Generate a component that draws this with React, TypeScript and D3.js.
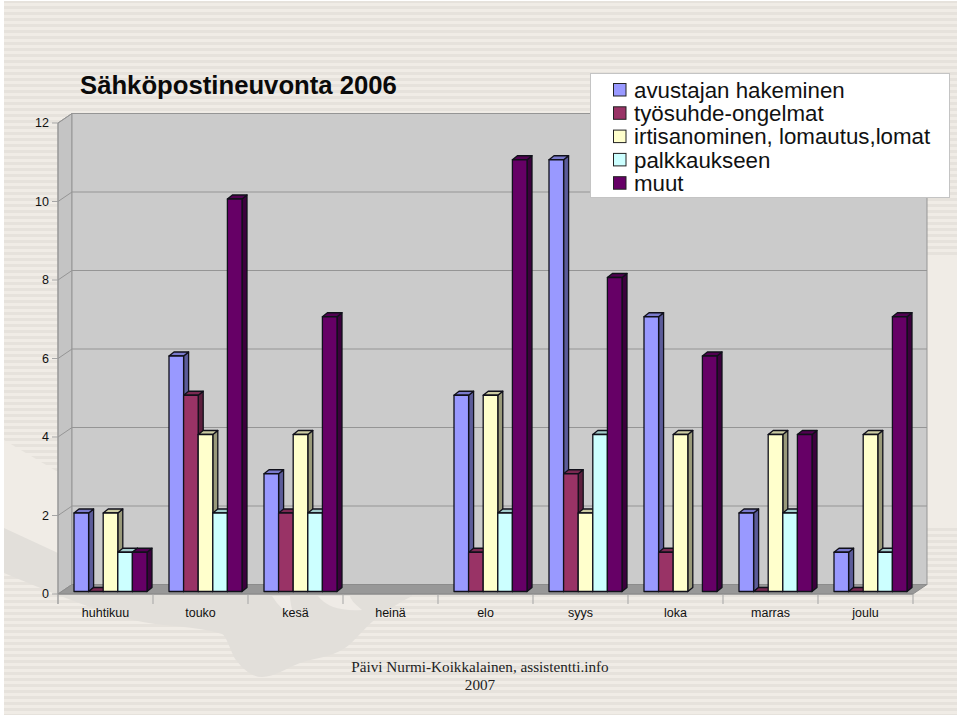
import * as d3 from 'd3';
import React from 'react';

const months = ['huhtikuu', 'touko', 'kesä', 'heinä', 'elo', 'syys', 'loka', 'marras', 'joulu'];
const seriesNames = ['avustajan hakeminen', 'työsuhde-ongelmat', 'irtisanominen, lomautus,lomat', 'palkkaukseen', 'muut'];
const seriesColors = ['#9999ff', '#993366', '#ffffcc', '#ccffff', '#660066'];

// null = no bar at all in the picture, 0 = flat slab
const avustajan = [2, 6, 3, null, 5, 11, 7, 2, 1];
const tyosuhde = [0, 5, 2, null, 1, 3, 1, 0, 0];
const irtisanominen = [2, 4, 4, null, 5, 2, 4, 4, 4];
const palkkaus = [1, 2, 2, null, 2, 4, null, 2, 1];
const muut = [1, 10, 7, null, 11, 8, 6, 4, 7];
const seriesValues = [avustajan, tyosuhde, irtisanominen, palkkaus, muut];

const yTicks = [0, 2, 4, 6, 8, 10, 12];

const width = 960;
const height = 717;
const plot = { left: 58, right: 913, top: 123, bottom: 594 };
const wallDx = 14;
const wallDy = -9.5;
const barDepthX = 5;
const barDepthY = -4;

const x = d3.scaleBand<string>().domain(months).range([plot.left, plot.right]);
const y = d3.scaleLinear().domain([0, 12]).range([plot.bottom, plot.top]);
const barX = d3
  .scaleBand<number>()
  .domain(d3.range(seriesNames.length))
  .range([16, x.bandwidth() - 6]);

const shade = (c: string, k: number) => {
  const r = d3.rgb(c);
  return d3.rgb(r.r * k, r.g * k, r.b * k).formatHex();
};

const pts = (p: number[][]) => p.map((q) => q.join(',')).join(' ');

// lower edge of the darker shape in the background picture
const blotch = d3.line().curve(d3.curveMonotoneX)([
  [4, 573], [33, 585], [133, 620], [222, 634], [236, 660], [262, 677], [300, 663], [345, 648], [372, 622], [412, 596]
]);

export default function App() {
  const barLift = 2.5;
  return (
    <svg
      width={width}
      height={height}
      style={{ position: 'absolute', left: 0, top: 0, background: '#fff' }}
    >
      <defs>
        <pattern id="stripes" patternUnits="userSpaceOnUse" width={6} height={6}>
          <rect width={6} height={6} fill="#f0ece6" />
          <rect width={6} height={3} fill="#e6e2dc" />
        </pattern>
      </defs>

      {/* background */}
      <rect x={4} y={1} width={953} height={714} fill="url(#stripes)" />
      <rect x={927} y={255} width={30} height={270} fill="#f0ece6" />
      <polygon points="4,440 58,472 58,560 4,530" fill="#f0ece6" />
      <path d={`${blotch}L412,590L58,590L58,553L4,528Z`} fill="#e2dfda" />
      <path d="M318,596Q330,612 362,610Q350,600 350,596Z" fill="#efebe6" />
      <path d="M272,596Q282,612 294,616Q290,604 290,596Z" fill="#efebe6" />

      {/* walls and floor */}
      <polygon
        points={pts([
          [plot.left, plot.top],
          [plot.left + wallDx, plot.top + wallDy],
          [plot.left + wallDx, plot.bottom + wallDy],
          [plot.left, plot.bottom]
        ])}
        fill="#c4c4c4"
        stroke="#959595"
      />
      <rect
        x={plot.left + wallDx}
        y={plot.top + wallDy}
        width={plot.right - plot.left}
        height={plot.bottom - plot.top}
        fill="#cbcbcb"
        stroke="#959595"
      />
      <polygon
        points={pts([
          [plot.left, plot.bottom],
          [plot.left + wallDx, plot.bottom + wallDy],
          [plot.right + wallDx, plot.bottom + wallDy],
          [plot.right, plot.bottom]
        ])}
        fill="#989898"
        stroke="#8c8c8c"
      />

      {/* grid and y axis */}
      {yTicks.map((t) => (
        <g key={t} fontFamily="Liberation Sans" fontSize={12.5} fill="#111">
          {t > 0 && (
            <polyline
              points={pts([
                [plot.left, y(t)],
                [plot.left + wallDx, y(t) + wallDy],
                [plot.right + wallDx, y(t) + wallDy]
              ])}
              fill="none"
              stroke="#959595"
            />
          )}
          <line x1={plot.left - 6} x2={plot.left} y1={y(t)} y2={y(t)} stroke="#a5a5a5" />
          <text x={49} y={y(t)} dy="0.35em" textAnchor="end">
            {t}
          </text>
        </g>
      ))}
      <line x1={plot.left} x2={plot.left} y1={plot.top} y2={plot.bottom + 10} stroke="#999" />

      {/* x axis */}
      <line x1={plot.left} x2={plot.right} y1={plot.bottom} y2={plot.bottom} stroke="#8c8c8c" />
      {[...months.map((m) => x(m)!), plot.right].map((tx, i) => (
        <line key={i} x1={tx} x2={tx} y1={plot.bottom} y2={plot.bottom + 10} stroke="#a5a5a5" />
      ))}
      {months.map((m) => (
        <text
          key={m}
          x={x(m)! + x.bandwidth() / 2}
          y={613}
          dy="0.35em"
          textAnchor="middle"
          fontFamily="Liberation Sans"
          fontSize={12.5}
          fill="#111"
        >
          {m}
        </text>
      ))}

      {/* bars */}
      {months.map((m, mi) =>
        seriesValues.map((vals, si) => {
          const v = vals[mi];
          if (v === null) return null;
          const x0 = x(m)! + barX(si)!;
          const x1 = x0 + barX.bandwidth();
          const yTop = y(v) - barLift;
          const yBase = y(0) - barLift;
          const color = seriesColors[si];
          return (
            <g key={`${m}-${si}`} stroke="#10101a" strokeWidth={1.3} strokeLinejoin="round">
              <polygon
                points={pts([
                  [x1, yTop],
                  [x1 + barDepthX, yTop + barDepthY],
                  [x1 + barDepthX, yBase + barDepthY],
                  [x1, yBase]
                ])}
                fill={shade(color, 0.6)}
              />
              <polygon
                points={pts([
                  [x0, yTop],
                  [x0 + barDepthX, yTop + barDepthY],
                  [x1 + barDepthX, yTop + barDepthY],
                  [x1, yTop]
                ])}
                fill={shade(color, 0.8)}
              />
              <rect x={x0} y={yTop} width={barX.bandwidth()} height={yBase - yTop} fill={color} />
            </g>
          );
        })
      )}

      {/* title */}
      <text x={80} y={94} fontFamily="Liberation Sans" fontWeight="bold" fontSize={25.7} fill="#0a0a0a">
        Sähköpostineuvonta 2006
      </text>

      {/* legend */}
      <rect x={590.5} y={73.5} width={359} height={124} fill="#fff" stroke="#c4c4c4" />
      {seriesNames.map((name, i) => (
        <g key={name}>
          <rect
            x={613.5}
            y={83.5 + i * 23.3}
            width={12.5}
            height={12.5}
            fill={seriesColors[i]}
            stroke="#222"
          />
          <text
            x={634}
            y={90 + i * 23.3}
            dy="0.35em"
            fontFamily="Liberation Sans"
            fontSize={22.3}
            fill="#111"
          >
            {name}
          </text>
        </g>
      ))}

      {/* footer */}
      <g fontFamily="Liberation Serif" fontSize={15.2} fill="#222" textAnchor="middle">
        <text x={480} y={672}>
          Päivi Nurmi-Koikkalainen, assistentti.info
        </text>
        <text x={480} y={690}>
          2007
        </text>
      </g>
    </svg>
  );
}
